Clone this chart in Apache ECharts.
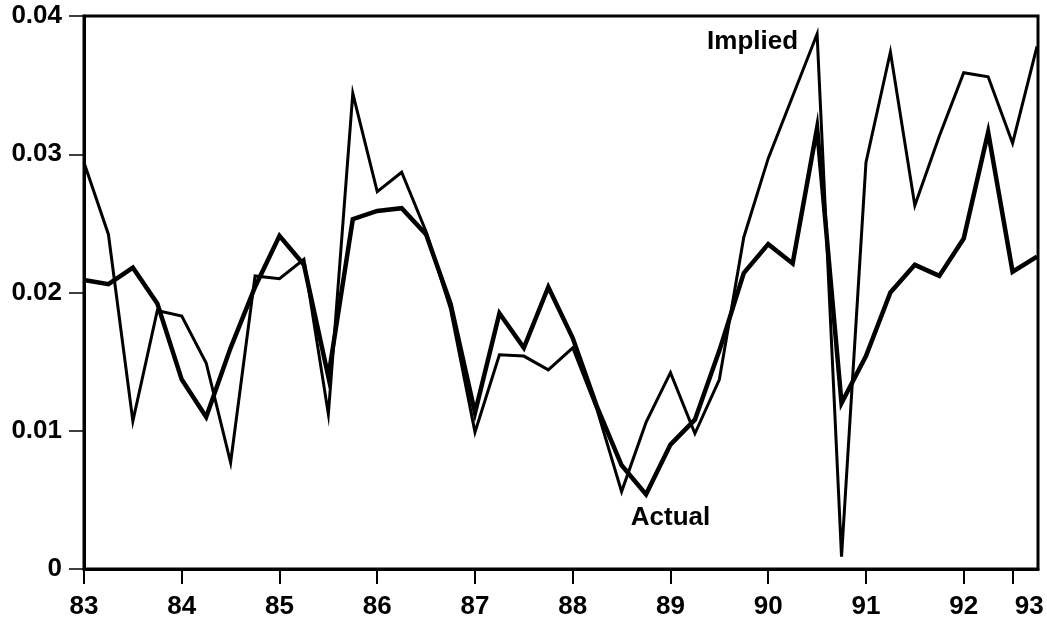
<!DOCTYPE html>
<html>
<head>
<meta charset="utf-8">
<script src="https://cdn.jsdelivr.net/npm/echarts@6/dist/echarts.min.js"></script>
<style>
html,body{margin:0;padding:0;background:#fff;}
#c{width:1047px;height:622px;}
</style>
</head>
<body>
<div id="c"></div>
<script>
const quarters = [83.00,83.25,83.50,83.75,84.00,84.25,84.50,84.75,85.00,85.25,
                  85.50,85.75,86.00,86.25,86.50,86.75,87.00,87.25,87.50,87.75,
                  88.00,88.25,88.50,88.75,89.00,89.25,89.50,89.75,90.00,90.25,
                  90.50,90.75,91.00,91.25,91.50,91.75,92.00,92.25,92.50,92.75];
const implied = [0.0294,0.0242,0.0107,0.0187,0.0183,0.0149,0.0077,0.0212,0.0210,0.0224,
                 0.0112,0.0344,0.0273,0.0287,0.0244,0.0188,0.0099,0.0155,0.0154,0.0144,
                 0.0160,0.0115,0.0056,0.0106,0.0142,0.0098,0.0137,0.0240,0.0297,0.0342,
                 0.0387,0.0009,0.0294,0.0374,0.0263,0.0313,0.0359,0.0356,0.0308,0.0378];
const actual  = [0.0209,0.0206,0.0218,0.0192,0.0137,0.0110,0.0160,0.0204,0.0241,0.0220,
                 0.0139,0.0253,0.0259,0.0261,0.0242,0.0192,0.0113,0.0185,0.0160,0.0204,
                 0.0167,0.0117,0.0075,0.0054,0.0090,0.0108,0.0158,0.0214,0.0235,0.0221,
                 0.0319,0.0120,0.0154,0.0200,0.0220,0.0212,0.0239,0.0316,0.0215,0.0226];
const xTickValues  = [83,84,85,86,87,88,89,90,91,92,92.5];
const xLabelValues = [83,84,85,86,87,88,89,90,91,92,92.67];
const xLabelTexts  = ['83','84','85','86','87','88','89','90','91','92','93'];
const yTicks = [0,0.01,0.02,0.03,0.04];
const yLabelTexts = ['0','0.01','0.02','0.03','0.04'];
const seriesNames = ['Implied','Actual'];
const annotations = [
  {name:'Implied', coord:[89.84,0.0381]},
  {name:'Actual',  coord:[89.00,0.0037]}
];

const font = 'Liberation Sans, Arial, Helvetica, sans-serif';
const chart = echarts.init(document.getElementById('c'), null, {renderer:'canvas'});

function pairs(xs, ys){ return xs.map((x,i)=>[x, ys[i]]); }

function annot(a){
  return {
    coord: a.coord, symbol:'rect', symbolSize:1,
    itemStyle:{color:'rgba(0,0,0,0)'},
    label:{show:true, position:'inside', formatter:a.name, color:'#000',
           fontFamily:font, fontWeight:'bold', fontSize:26}
  };
}

chart.setOption({
  animation:false,
  backgroundColor:'#fff',
  grid:{left:84, right:9, top:16, bottom:53, containLabel:false, outerBoundsMode:'none',
        show:true, borderColor:'#000', borderWidth:3, backgroundColor:'transparent'},
  xAxis:{
    type:'value', min:83, max:92.76,
    axisLine:{show:true, onZero:false, lineStyle:{color:'#000', width:3}},
    axisTick:{show:true, customValues:xTickValues, length:15, lineStyle:{color:'#000', width:2}},
    axisLabel:{show:true, customValues:xLabelValues, margin:25, color:'#000',
      fontFamily:font, fontWeight:'bold', fontSize:26,
      formatter:function(v){ const i = xLabelValues.findIndex(t=>Math.abs(t-v)<1e-6); return i>=0 ? xLabelTexts[i] : ''; }},
    splitLine:{show:false}
  },
  yAxis:{
    type:'value', min:0, max:0.04, interval:0.01,
    axisLine:{show:true, lineStyle:{color:'#000', width:3}},
    axisTick:{show:true, length:15, lineStyle:{color:'#000', width:1.5}},
    axisLabel:{show:true, margin:22, color:'#000', fontFamily:font, fontWeight:'bold', fontSize:26,
      formatter:function(v){ const i = yTicks.findIndex(t=>Math.abs(t-v)<1e-9); return i>=0 ? yLabelTexts[i] : ''; }},
    splitLine:{show:false}
  },
  series:[
    {name:seriesNames[1], type:'line', data:pairs(quarters, actual), symbol:'none', clip:false,
     lineStyle:{color:'#000', width:4.5, join:'miter'},
     markPoint:{silent:true, data:[annot(annotations[1])]}},
    {name:seriesNames[0], type:'line', data:pairs(quarters, implied), symbol:'none', clip:false,
     lineStyle:{color:'#000', width:3, join:'miter'},
     markPoint:{silent:true, data:[annot(annotations[0])]}}
  ]
});
</script>
</body>
</html>
